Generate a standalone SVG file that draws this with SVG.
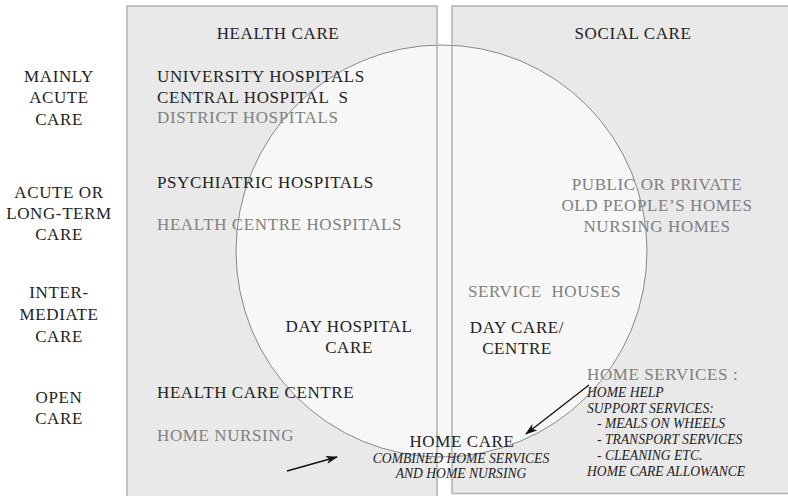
<svg xmlns="http://www.w3.org/2000/svg" width="788" height="496" viewBox="0 0 788 496">
<style>
text{font-family:"Liberation Serif","DejaVu Serif",serif;font-size:17px;fill:#222;letter-spacing:0.6px;white-space:pre}
.g{fill:#808080}
.c{text-anchor:middle}
.i{font-style:italic;font-size:13.6px;letter-spacing:0}
.box{fill:#e9e9e9;stroke:none}
.edge{fill:none;stroke:#b0b0b0;stroke-width:1.5}
.arrow{stroke:#111;stroke-width:1.3;fill:none;marker-end:url(#ah)}
</style>
<defs>
<marker id="ah" viewBox="0 0 12 8" refX="11" refY="4" markerWidth="12" markerHeight="8" markerUnits="userSpaceOnUse" orient="auto">
<path d="M0,0 L12,4 L0,8 L3,4 z" fill="#111"/>
</marker>
</defs>
<rect width="788" height="496" fill="#fff"/>
<g id="backgrounds">
<rect class="box" x="127" y="6" width="310" height="500"/>
<rect class="box" x="452" y="6" width="346" height="488"/>
<ellipse cx="441.5" cy="251" rx="205.5" ry="206" fill="#f7f7f7" stroke="#888" stroke-width="1"/>
<rect class="edge" x="127" y="6" width="310" height="500"/>
<rect class="edge" x="452" y="6" width="346" height="487.5"/>
</g>
<g id="row-labels">
<text class="c" x="59" y="82">MAINLY</text>
<text class="c" x="59" y="103">ACUTE</text>
<text class="c" x="59" y="125">CARE</text>
<text class="c" x="59" y="198">ACUTE OR</text>
<text class="c" x="59" y="219">LONG-TERM</text>
<text class="c" x="59" y="240">CARE</text>
<text class="c" x="59" y="298">INTER-</text>
<text class="c" x="59" y="320">MEDIATE</text>
<text class="c" x="59" y="342">CARE</text>
<text class="c" x="59" y="403">OPEN</text>
<text class="c" x="59" y="424">CARE</text>
</g>
<g id="health-care">
<text class="c" x="278" y="39">HEALTH CARE</text>
</g>
<g id="social-care">
<text class="c" x="633" y="39">SOCIAL CARE</text>
</g>
<g id="hospitals">
<text x="157" y="82">UNIVERSITY HOSPITALS</text>
<text x="157" y="103">CENTRAL HOSPITAL  S</text>
<text class="g" x="157" y="123">DISTRICT HOSPITALS</text>
</g>
<g id="psychiatric">
<text x="157" y="188">PSYCHIATRIC HOSPITALS</text>
</g>
<g id="health-centre-hospitals">
<text class="g" x="157" y="230">HEALTH CENTRE HOSPITALS</text>
</g>
<g id="old-peoples-homes">
<text class="g c" x="657" y="190">PUBLIC OR PRIVATE</text>
<text class="g c" x="657" y="211">OLD PEOPLE’S HOMES</text>
<text class="g c" x="657" y="232">NURSING HOMES</text>
</g>
<g id="service-houses">
<text class="g" x="468" y="297">SERVICE  HOUSES</text>
</g>
<g id="day-hospital">
<text class="c" x="349" y="332">DAY HOSPITAL</text>
<text class="c" x="349" y="353">CARE</text>
</g>
<g id="day-care">
<text class="c" x="517" y="333">DAY CARE/</text>
<text class="c" x="517" y="354">CENTRE</text>
</g>
<g id="health-care-centre">
<text x="157" y="398">HEALTH CARE CENTRE</text>
</g>
<g id="home-nursing">
<text class="g" x="157" y="441">HOME NURSING</text>
</g>
<g id="home-services">
<text class="g" x="587" y="380">HOME SERVICES :</text>
<text class="i" x="587" y="397">HOME HELP</text>
<text class="i" x="587" y="413">SUPPORT SERVICES:</text>
<text class="i" x="597" y="428">- MEALS ON WHEELS</text>
<text class="i" x="597" y="444">- TRANSPORT SERVICES</text>
<text class="i" x="597" y="460">- CLEANING ETC.</text>
<text class="i" x="587" y="476">HOME CARE ALLOWANCE</text>
</g>
<g id="home-care">
<text class="c" x="462" y="447">HOME CARE</text>
<text class="i c" x="461" y="463">COMBINED HOME SERVICES</text>
<text class="i c" x="461" y="478">AND HOME NURSING</text>
</g>
<g id="connectors">
<line class="arrow" x1="287" y1="471" x2="337" y2="457"/>
<line class="arrow" x1="589" y1="385" x2="526" y2="434"/>
</g>
</svg>
